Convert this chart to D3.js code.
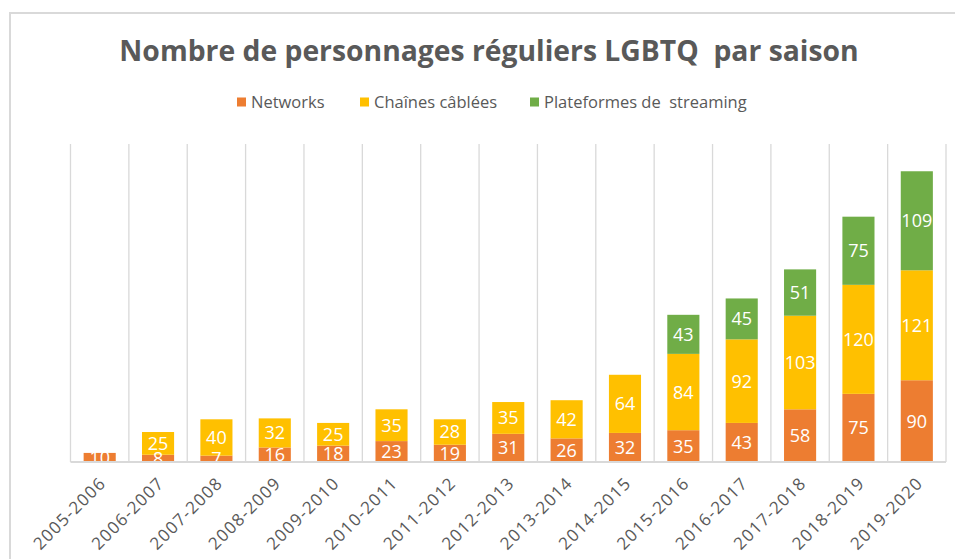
<!DOCTYPE html>
<html>
<head>
<meta charset="utf-8">
<script src="https://cdn.jsdelivr.net/npm/d3@7"></script>
<style>
  body { margin: 0; background: #fff; }
  svg { display: block; font-family: "Open Sans", "Noto Sans", sans-serif; }
</style>
</head>
<body>
<svg id="graphique" width="955" height="559"></svg>
<script>
const saisons = ["2005-2006","2006-2007","2007-2008","2008-2009","2009-2010","2010-2011","2011-2012",
                 "2012-2013","2013-2014","2014-2015","2015-2016","2016-2017","2017-2018","2018-2019","2019-2020"];
const networks  = [10, 8, 7, 16, 18, 23, 19, 31, 26, 32, 35, 43, 58, 75, 90];
const cables    = [0, 25, 40, 32, 25, 35, 28, 35, 42, 64, 84, 92, 103, 120, 121];
const streaming = [0, 0, 0, 0, 0, 0, 0, 0, 0, 0, 43, 45, 51, 75, 109];

const series = [
    { cle: "networks",  nom: "Networks",                  valeurs: networks,  couleur: "#ED7D31" },
    { cle: "cables",    nom: "Chaînes câblées",           valeurs: cables,    couleur: "#FFC000" },
    { cle: "streaming", nom: "Plateformes de  streaming", valeurs: streaming, couleur: "#70AD47" },
];

const width = 955, height = 559;
const marge = { haut: 144, droite: 9, bas: 97, gauche: 70.5 };
const svg = d3.select("#graphique");

// cadre
svg.append("path")
    .attr("d", `M10,${height} V13 H${width}`)
    .attr("fill", "none")
    .attr("stroke", "#d9d9d9")
    .attr("stroke-width", 2);

const lignes = saisons.map((s, i) => {
    const o = { saison: s };
    series.forEach(se => o[se.cle] = se.valeurs[i]);
    return o;
});
const pile = d3.stack().keys(series.map(s => s.cle))(lignes);

const x = d3.scaleBand()
    .domain(saisons)
    .range([marge.gauche, width - marge.droite])
    .paddingInner(0.45)
    .paddingOuter(0.225);

const y = d3.scaleLinear()
    .domain([0, 350])
    .range([height - marge.bas, marge.haut]);

// grille verticale
const pas = x.step();
svg.append("g")
    .selectAll("line")
    .data(d3.range(saisons.length + 1))
    .join("line")
    .attr("x1", i => marge.gauche + i * pas)
    .attr("x2", i => marge.gauche + i * pas)
    .attr("y1", y(350))
    .attr("y2", y(0))
    .attr("stroke", "#d9d9d9")
    .attr("stroke-width", 1.3);

// barres
svg.append("clipPath").attr("id", "zone")
    .append("rect")
    .attr("x", marge.gauche).attr("y", y(350))
    .attr("width", width - marge.droite - marge.gauche)
    .attr("height", y(0) - y(350));

const couches = svg.append("g")
    .selectAll("g")
    .data(pile)
    .join("g")
    .attr("fill", (d, i) => series[i].couleur);

couches.selectAll("rect")
    .data(d => d.filter(p => p[1] - p[0] > 0))
    .join("rect")
    .attr("x", d => x(d.data.saison))
    .attr("width", x.bandwidth())
    .attr("y", d => y(d[1]))
    .attr("height", d => y(d[0]) - y(d[1]));

// étiquettes
svg.append("g")
    .attr("clip-path", "url(#zone)")
    .selectAll("g")
    .data(pile)
    .join("g")
    .selectAll("text")
    .data(d => d.filter(p => p[1] - p[0] > 0))
    .join("text")
    .attr("x", d => x(d.data.saison) + x.bandwidth() / 2)
    .attr("y", d => (y(d[0]) + y(d[1])) / 2)
    .attr("dy", "0.36em")
    .attr("text-anchor", "middle")
    .attr("fill", "#fff")
    .attr("font-size", 18)
    .text(d => d[1] - d[0]);

// axe horizontal
const axeX = svg.append("g")
    .attr("transform", `translate(0,${y(0)})`)
    .call(d3.axisBottom(x).tickSize(0).tickPadding(0))
    .attr("font-family", null)
    .attr("font-size", null);
axeX.select(".domain")
    .attr("d", `M${marge.gauche},0H${width - marge.droite}`)
    .attr("stroke", "#d9d9d9")
    .attr("stroke-width", 2);
axeX.selectAll(".tick text")
    .attr("font-size", 17)
    .attr("letter-spacing", 1.2)
    .attr("fill", "#595959")
    .attr("text-anchor", "end")
    .attr("dy", "0.35em")
    .attr("transform", "translate(3,18) rotate(-45)");

// titre
svg.append("text")
    .attr("x", 489)
    .attr("y", 61)
    .attr("text-anchor", "middle")
    .attr("font-size", 28.3)
    .attr("font-weight", "bold")
    .attr("fill", "#595959")
    .attr("xml:space", "preserve")
    .text("Nombre de personnages réguliers LGBTQ  par saison");

// légende
const posLegende = [237, 360, 530];
const legende = svg.append("g")
    .selectAll("g")
    .data(series)
    .join("g")
    .attr("transform", (d, i) => `translate(${posLegende[i]},102)`);
legende.append("rect")
    .attr("x", 0).attr("y", -4.5)
    .attr("width", 9).attr("height", 9)
    .attr("fill", d => d.couleur);
legende.append("text")
    .attr("x", 14)
    .attr("dy", "0.35em")
    .attr("font-size", 16.5)
    .attr("fill", "#595959")
    .attr("xml:space", "preserve")
    .text(d => d.nom);
</script>
</body>
</html>
